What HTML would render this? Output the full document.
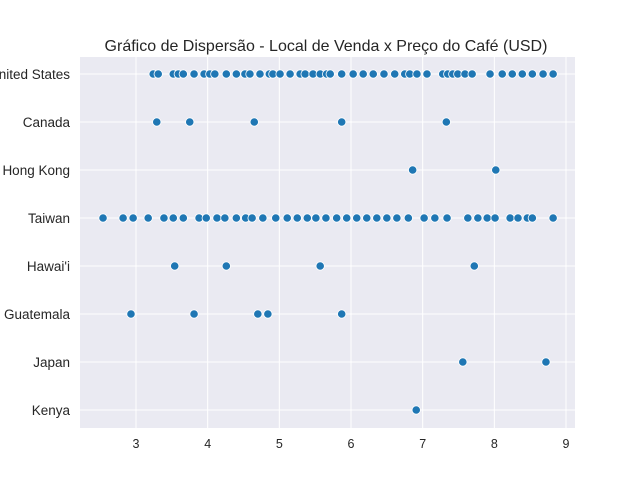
<!DOCTYPE html>
<html><head><meta charset="utf-8"><style>
body{margin:0;background:#fff}
svg{display:block;font-family:"Liberation Sans","DejaVu Sans",sans-serif}
</style></head><body>
<svg id="c" width="640" height="480">
<text x="326" y="51" text-anchor="middle" font-size="16" fill="#262626">Gráfico de Dispersão - Local de Venda x Preço do Café (USD)</text>
</svg>
<script>
const categories=["United States","Canada","Hong Kong","Taiwan","Hawai'i","Guatemala","Japan","Kenya"];
const xTicks=[3,4,5,6,7,8,9];
const usPrices=[3.24,3.31,3.52,3.59,3.66,3.81,3.95,4.03,4.10,4.26,4.40,4.52,4.59,4.73,4.86,4.91,5.01,5.15,5.29,5.36,5.47,5.57,5.66,5.71,5.87,6.03,6.17,6.31,6.46,6.61,6.75,6.82,6.92,7.06,7.28,7.35,7.42,7.49,7.59,7.69,7.94,8.11,8.25,8.39,8.53,8.68,8.82];
const canadaPrices=[3.29,3.75,4.65,5.87,7.33];
const hongKongPrices=[6.86,8.02];
const taiwanPrices=[2.54,2.82,2.96,3.17,3.39,3.52,3.66,3.88,3.98,4.13,4.24,4.40,4.53,4.62,4.77,4.95,5.11,5.25,5.39,5.51,5.65,5.80,5.94,6.08,6.22,6.36,6.50,6.64,6.80,7.02,7.17,7.34,7.63,7.77,7.90,8.01,8.22,8.33,8.46,8.53,8.82];
const hawaiiPrices=[3.54,4.26,5.57,7.72];
const guatemalaPrices=[2.93,3.81,4.70,4.84,5.87];
const japanPrices=[7.56,8.72];
const kenyaPrices=[6.91];
const seriesPrices=[usPrices,canadaPrices,hongKongPrices,taiwanPrices,hawaiiPrices,guatemalaPrices,japanPrices,kenyaPrices];

const NS="http://www.w3.org/2000/svg";
const svg=document.getElementById('c');
const L=80,R=575,T=57,B=428;
const xScale=v=>136+(v-3)*71.67;
const yScale=i=>74+i*48;
function mk(tag,attrs,parent){const e=document.createElementNS(NS,tag);for(const k in attrs)e.setAttribute(k,attrs[k]);(parent||svg).appendChild(e);return e;}
const bg=mk('rect',{x:L,y:T,width:R-L,height:B-T,fill:'#eaeaf2'});


xTicks.forEach(t=>{
  const g=mk('line',{x1:xScale(t),x2:xScale(t),y1:T,y2:B,stroke:'#fff','stroke-width':1});
  
  
  const tx=mk('text',{x:xScale(t),y:B+20,'text-anchor':'middle','font-size':12.5,fill:'#262626'});
  tx.textContent=t;
  
  
});
categories.forEach((c,i)=>{
  const g=mk('line',{x1:L,x2:R,y1:yScale(i),y2:yScale(i),stroke:'#fff','stroke-width':1});
  
  
  const tx=mk('text',{x:L-10,y:yScale(i)+5,'text-anchor':'end','font-size':13.5,fill:'#262626'});
  tx.textContent=c;
  
  
});
seriesPrices.forEach((arr,i)=>{
  arr.forEach(v=>{
    const p=mk('circle',{cx:xScale(v),cy:yScale(i),r:4.2,fill:'#1f77b4',stroke:'#fff','stroke-width':0.8});
    
    
  });
});
</script>
</body></html>
